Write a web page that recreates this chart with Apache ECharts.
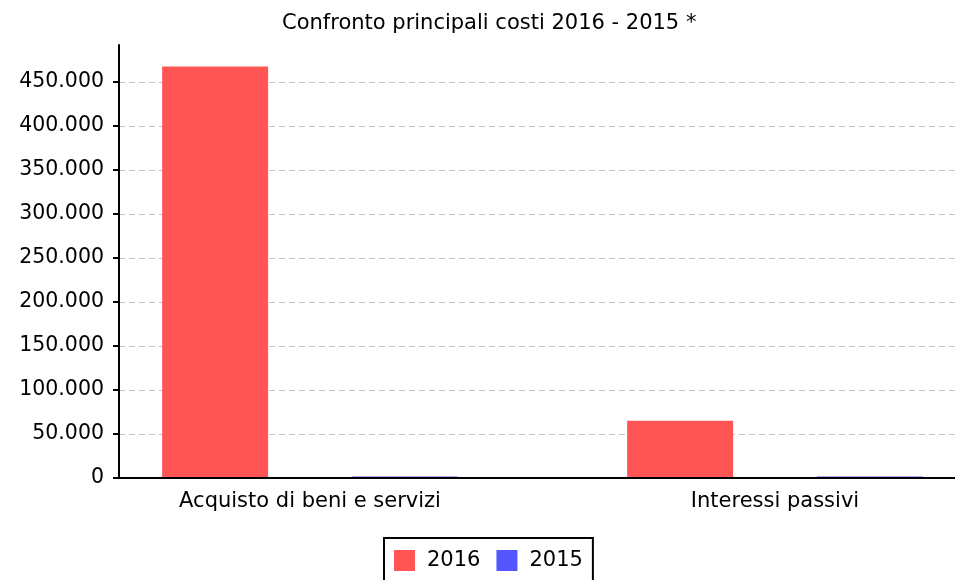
<!DOCTYPE html>
<html>
<head>
<meta charset="utf-8">
<script src="https://cdn.jsdelivr.net/npm/echarts@6/dist/echarts.min.js"></script>
<style>html,body{margin:0;padding:0;background:#fff}#c{width:955px;height:580px}</style>
</head>
<body>
<div id="c"></div>
<script>
var titleText = 'Confronto principali costi 2016 - 2015 *';
var categories = ['Acquisto di beni e servizi', 'Interessi passivi'];
var seriesNames = ['2016', '2015'];
var values2016 = [467700, 65100];
var values2015 = [1700, 1700];
var yTicks = [0, 50000, 100000, 150000, 200000, 250000, 300000, 350000, 400000, 450000];
var yMax = 492000;

var FONT = 'DejaVu Sans';
function fmt(v) { return String(Math.round(v)).replace(/\B(?=(\d{3})+(?!\d))/g, '.'); }

var chart = echarts.init(document.getElementById('c'), null, {renderer: 'canvas'});
chart.setOption({
  animation: false,
  backgroundColor: '#ffffff',
  title: {
    text: titleText, left: 277, top: 8,
    textStyle: {fontFamily: FONT, fontSize: 21, fontWeight: 'normal', color: '#000'}
  },
  legend: {
    data: seriesNames, left: 384, top: 538,
    borderColor: '#000', borderWidth: 2, padding: [12, 10, 12, 10],
    itemWidth: 21, itemHeight: 21, itemGap: 16,
    icon: 'rect',
    textStyle: {fontFamily: FONT, fontSize: 21, color: '#000', padding: [0, 0, 0, 7]}
  },
  grid: [
    {left: 119, right: 0, top: 45, bottom: 102, containLabel: false, outerBoundsMode: 'none'},
    {left: 77.5, width: 930, top: 45, bottom: 102, containLabel: false, outerBoundsMode: 'none'}
  ],
  xAxis: [
    {type: 'category', gridIndex: 0, data: categories, offset: 1.5,
     axisLine: {lineStyle: {color: '#000', width: 2}}, axisTick: {show: false}, axisLabel: {show: false}, z: 10},
    {type: 'category', gridIndex: 1, data: categories,
     axisLine: {show: false}, axisTick: {show: false},
     axisLabel: {margin: 13, fontFamily: FONT, fontSize: 21, color: '#000'}}
  ],
  yAxis: [
    {type: 'value', gridIndex: 0, min: 0, max: yMax, interval: 50000,
     axisLine: {show: true, lineStyle: {color: '#000', width: 2}},
     axisTick: {show: true, length: 6, lineStyle: {color: '#000', width: 2}, customValues: yTicks},
     axisLabel: {margin: 15, fontFamily: FONT, fontSize: 20.5, color: '#000', formatter: fmt, customValues: yTicks},
     splitLine: {show: true, showMinLine: true, showMaxLine: true, lineStyle: {color: '#c4c4c4', type: [6, 4], width: 1}}},
    {type: 'value', gridIndex: 1, min: 0, max: yMax, interval: 50000, show: false,
     splitLine: {show: false}}
  ],
  series: [
    {name: seriesNames[0], type: 'bar', xAxisIndex: 1, yAxisIndex: 1, data: values2016,
     itemStyle: {color: '#ff5555'}, barWidth: 106, barGap: '79%'},
    {name: seriesNames[1], type: 'bar', xAxisIndex: 1, yAxisIndex: 1, data: values2015,
     itemStyle: {color: '#5555ff'}, barWidth: 106, barGap: '79%'}
  ]
});
</script>
</body>
</html>
